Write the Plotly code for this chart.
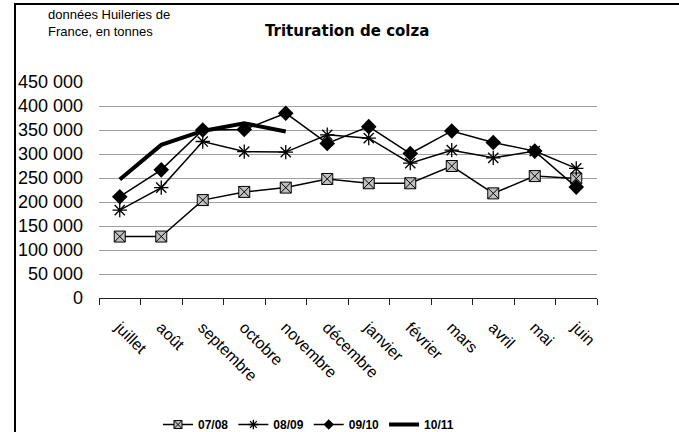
import plotly.graph_objects as go

months = ["juillet", "août", "septembre", "octobre", "novembre", "décembre",
          "janvier", "février", "mars", "avril", "mai", "juin"]

s0708 = [128000, 128000, 204000, 221000, 230000, 248000,
         239000, 239000, 275000, 218000, 254000, 249000]
s0809 = [183000, 230000, 326000, 305000, 304000, 340000,
         333000, 281000, 308000, 292000, 306000, 270000]
s0910 = [211000, 267000, 350000, 351000, 385000, 322000,
         357000, 301000, 348000, 324000, 306000, 231000]
s1011 = [247000, 319000, 348000, 364000, 347000]

ytick_vals = [0, 50000, 100000, 150000, 200000, 250000,
              300000, 350000, 400000, 450000]
ytick_text = ["0", "50 000", "100 000", "150 000", "200 000", "250 000",
              "300 000", "350 000", "400 000", "450 000"]

INK = "black"
SANS = "Liberation Sans, Arial, sans-serif"

# (name, values, marker style, line width) ; legend gets smaller markers
series = [
    ("07/08", s0708, dict(symbol="square-x", size=11, color="#c0c0c0",
                          line=dict(color=INK, width=1)), 1.5),
    ("08/09", s0809, dict(symbol="asterisk-open", size=12, color=INK,
                          line=dict(color=INK, width=1.3)), 1.5),
    ("09/10", s0910, dict(symbol="diamond", size=12, color=INK), 1.5),
    ("10/11", s1011, None, 4),
]

fig = go.Figure()
for name, vals, mk, lw in series:
    fig.add_trace(go.Scatter(
        x=months[:len(vals)], y=vals, name=name,
        mode="lines+markers" if mk else "lines",
        line=dict(color=INK, width=lw), marker=mk, showlegend=False,
    ))
for name, vals, mk, lw in series:
    small = None
    if mk:
        small = dict(mk, size=8)
    fig.add_trace(go.Scatter(
        x=[None], y=[None], name=name,
        mode="lines+markers" if mk else "lines",
        line=dict(color=INK, width=lw), marker=small,
    ))

# plot area in window pixels: x 99..597, y 82..298
L, R, T, B = 99, 597, 82, 298
FW, FH = 679, 432
W, H = R - L, B - T


def px(x):
    return (x - L) / W


def py(y):
    return (B - y) / H


fig.update_layout(
    width=FW, height=FH,
    margin=dict(l=L, r=FW - R, t=T, b=FH - B, autoexpand=False),
    paper_bgcolor="white", plot_bgcolor="white",
    font=dict(family=SANS, color=INK),
    showlegend=True,
    legend=dict(orientation="h", x=px(158), xanchor="left",
                y=py(410), yanchor="top",
                font=dict(size=12, family=SANS, weight="bold"),
                itemwidth=30, tracegroupgap=0,
                bgcolor="rgba(0,0,0,0)"),
    xaxis=dict(
        showgrid=False, showline=True, linecolor="#222", linewidth=1,
        ticks="outside", tickson="boundaries", ticklen=6, tickcolor="#222",
        tickangle=45, tickfont=dict(size=16), range=[-0.5, 11.5],
        ticklabelstandoff=13, automargin=False,
    ),
    yaxis=dict(
        range=[0, 450000], tickvals=ytick_vals, ticktext=ytick_text,
        showgrid=True, gridcolor="#a0a0a0", gridwidth=1,
        showline=False, ticks="", zeroline=False,
        tickfont=dict(size=18), ticklabelstandoff=15, automargin=False,
    ),
    annotations=[
        dict(text="Trituration de colza", xref="paper", yref="paper",
             x=px(347), y=py(31), xanchor="center", yanchor="middle",
             showarrow=False,
             font=dict(size=15, weight="bold",
                       family="DejaVu Sans, sans-serif")),
        dict(text="données Huileries de<br>France, en tonnes",
             xref="paper", yref="paper", x=px(46), y=py(5),
             xanchor="left", yanchor="top", align="left", showarrow=False,
             font=dict(size=13)),
    ],
    shapes=[
        dict(type="rect", xref="paper", yref="paper",
             x0=px(15), x1=px(700), y0=py(460), y1=py(4),
             line=dict(color=INK, width=2), layer="below"),
    ],
)

# drop the default 8px page margin so figure pixels = window pixels
fig.write_html("out.html", config={"displayModeBar": False},
               post_script="document.body.style.margin='0';")
